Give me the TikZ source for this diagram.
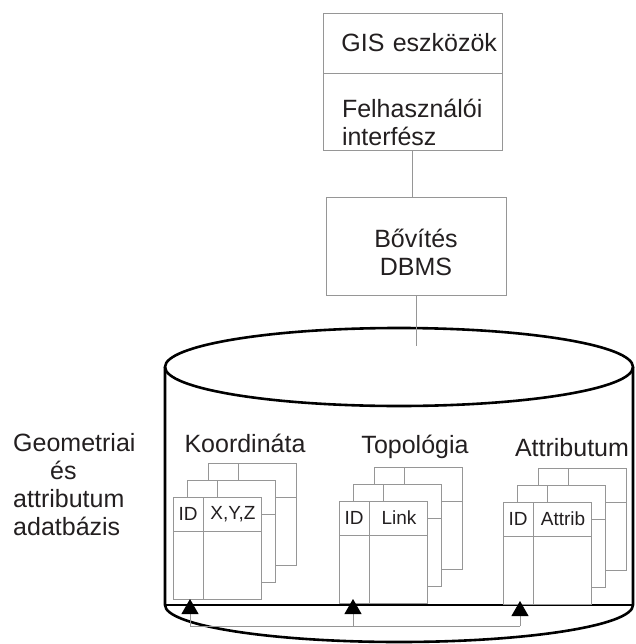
\documentclass[tikz,border=0pt]{standalone}
\usepackage{fontspec}
\setmainfont{Liberation Sans}
\usetikzlibrary{positioning,arrows.meta}
\definecolor{linegray}{RGB}{150,150,150}
\definecolor{ink}{RGB}{35,31,32}

\begin{document}
\begin{tikzpicture}[
    x=1pt, y=-1pt,
    node distance=46pt,
    every node/.style={text=ink},
    big/.style={font=\fontsize{25}{28}\selectfont},
    small/.style={font=\fontsize{19}{22}\selectfont},
    box/.style={rectangle, draw=linegray, line width=0.8pt, minimum width=179pt, big},
    card/.style={draw=linegray, line width=0.8pt},
    sheet/.style={card, fill=white, minimum width=88pt, minimum height=102pt, inner sep=0pt, outer sep=0pt},
    cyl/.style={draw=black, line width=2.6pt},
    feed/.style={card, -{Triangle[width=17pt, length=15pt, color=black]}}
]
\useasboundingbox (0,0) rectangle (635,644);

\node[box, minimum height=60pt, text width=169pt, inner xsep=5pt, align=right] (gis) at (412.5,43) {GIS eszközök};
\node[box, minimum height=77pt, text width=141pt, inner xsep=19pt, align=left, below=0pt of gis] (ui) {\rule{0pt}{38pt}Felhasználói\\interfész};
\node[box, minimum width=180pt, minimum height=98pt, align=center, below=46pt of ui, xshift=3.5pt] (dbms) {\rule{0pt}{30pt}Bővítés\\DBMS};
\coordinate (tap) at ([yshift=-50pt]dbms.south);

\draw[card] (ui.south) -- (ui.south |- dbms.north);

% henger
\draw[cyl] (399,367) ellipse [x radius=234, y radius=39];
\draw[cyl] (165,367) -- (165,605) arc[start angle=180, end angle=0, x radius=234, y radius=37] -- (633,367);
\draw[cyl] (165,605) -- (633,605);
\draw[card] (dbms.south) -- (tap);

\node[big, align=left, anchor=north west, inner sep=0pt] (dbname) at (13,433) {Geometriai\\\hspace*{37pt}és\\attributum\\adatbázis};

\foreach \nm/\x/\y/\tx/\ttl/\fld in {koord/173/497/72/Koordináta/{X,Y,Z}, topo/339/501/76/Topológia/Link, attr/503/502/69/Attributum/Attrib} {
  \foreach \dx/\dy in {35/-33.5, 14/-16.5}
    \draw[card, fill=white] (\x+\dx,\y+\dy) rectangle ++(88,102)
      (\x+\dx,\y+\dy+34) -- ++(88,0)
      (\x+\dx+30,\y+\dy) -- ++(0,34);
  \node[sheet, anchor=north west] (\nm) at (\x,\y) {};
  \draw[card] ([yshift=-34pt]\nm.north west) -- ([yshift=-34pt]\nm.north east);
  \draw[card] ([xshift=30pt]\nm.north west) -- ([xshift=30pt]\nm.south west);
  \node[small] (\nm-id) at (\x+15,\y+17) {ID};
  \node[small] (\nm-fld) at (\x+60,\y+17) {\fld};
  \node[big] (\nm-title) at (\x+\tx,\y-54) {\ttl};
}

\coordinate (busK) at (190,626);
\coordinate (busT) at (353,626);
\coordinate (busA) at (520,626);
\draw[card] (busK) -- (busA);
\draw[feed] (busK) -- (busK |- koord.south);
\draw[feed, shorten >=-4pt] (busT) -- (busT |- topo.south);
\draw[feed, shorten >=-3pt] (busA) -- (busA |- attr.south);

\end{tikzpicture}
\end{document}
